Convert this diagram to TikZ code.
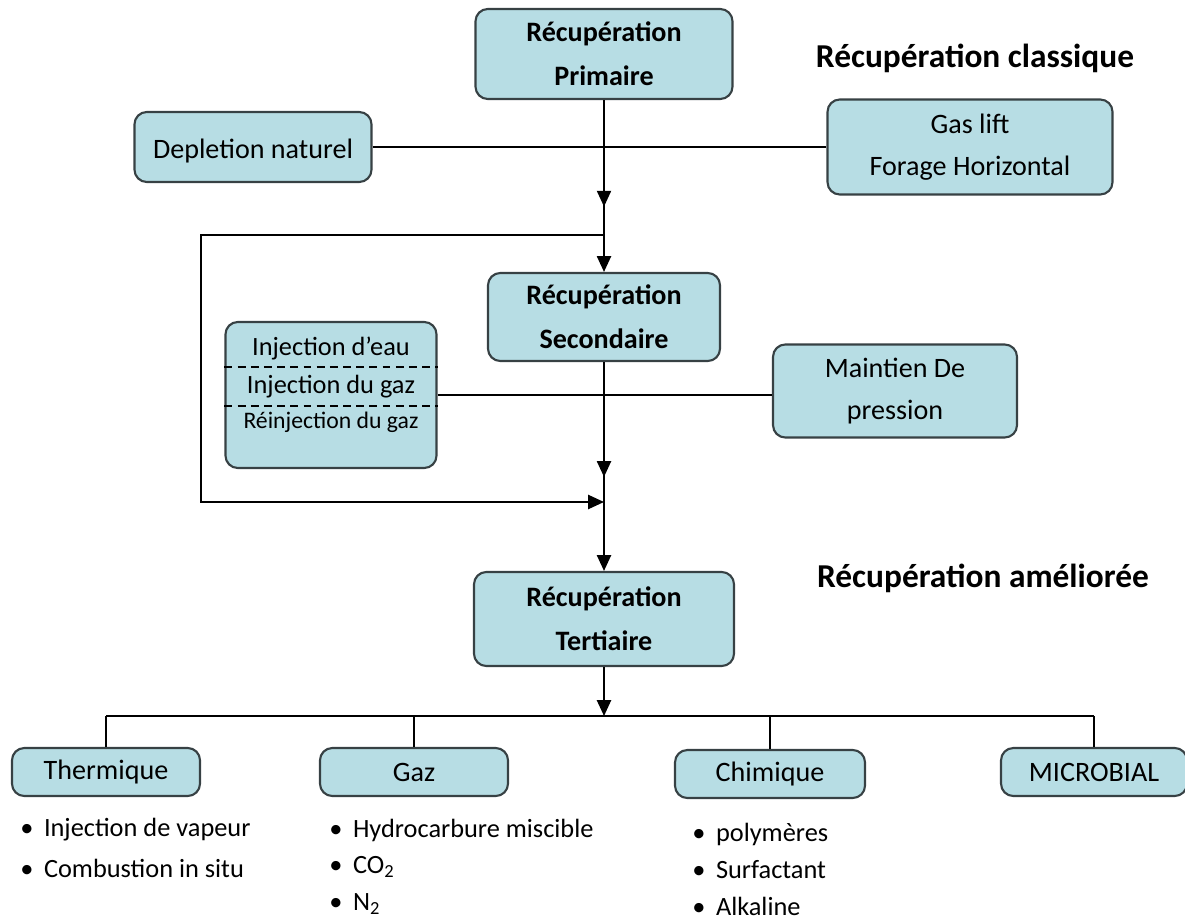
\documentclass[tikz,border=0pt]{standalone}
\usepackage{fontspec}
\setmainfont{Carlito}
\usetikzlibrary{arrows.meta,decorations.markings}

\definecolor{boxfill}{RGB}{183,221,228}
\definecolor{boxline}{RGB}{55,65,68}
\newlength{\pxu}
\setlength{\pxu}{0.02cm}

\tikzset{
  box/.style={draw=boxline, line width=1.2pt, fill=boxfill, rounded corners=7pt,
    align=center, inner sep=0pt, font=\fontsize{16}{24}\selectfont},
  bigbox/.style={box, font=\bfseries\fontsize{16}{25}\selectfont},
  link/.style={line width=1.1pt},
  tip/.style={link, -{Triangle[length=9pt,width=8pt]}},
  midtip/.style={decoration={markings,
      mark=at position #1 with {\arrow{Triangle[length=9pt,width=8pt]}}},
    postaction={decorate}},
  title/.style={font=\bfseries\fontsize{19}{23}\selectfont},
  item/.style={anchor=west, inner sep=0pt, font=\fontsize{15}{18}\selectfont}
}

\begin{document}
\begin{tikzpicture}[x=0.02cm, y=-0.02cm]
\useasboundingbox (0,0) rectangle (1185,922);

% main column
\node[bigbox, minimum width=257\pxu, minimum height=90\pxu] (prim) at (604,54) {Récupération\\Primaire};
\node[bigbox, minimum width=232\pxu, minimum height=88\pxu] (sec) at (604,317) {Récupération\\Secondaire};
\node[bigbox, minimum width=260\pxu, minimum height=94\pxu] (tert) at (604,619) {Récupération\\Tertiaire};

\node[title] (classique) at (975,58) {Récupération classique};
\node[title] (amelioree) at (983,578) {Récupération améliorée};

% primaire
\node[box, minimum width=237\pxu, minimum height=70\pxu] (depl) at (253,147) {Depletion naturel\vphantom{\rule{0pt}{16pt}}};
\node[box, minimum width=285\pxu, minimum height=95\pxu] (gas) at (970,147) {Gas lift\\Forage Horizontal};
\draw[link] (depl) -- (gas);
\draw[tip, midtip=0.62] (prim) -- (sec);

% secondaire
\node[box, minimum width=211\pxu, minimum height=146\pxu] (inj) at (331,395) {};
\node[font=\fontsize{15}{18}\selectfont] (eau) at (331,348) {Injection d’eau};
\node[font=\fontsize{15}{18}\selectfont] (gazinj) at (331,387) {Injection du gaz};
\node[font=\fontsize{13.5}{16}\selectfont] (reinj) at (331,422) {Réinjection du gaz};
\draw[dashed, line width=0.9pt, dash pattern=on 4.5pt off 3pt] (inj.west |- 0,367) -- (inj.east |- 0,367);
\draw[dashed, line width=0.9pt, dash pattern=on 4.5pt off 3pt] (inj.west |- 0,406) -- (inj.east |- 0,406);

\node[box, minimum width=244\pxu, minimum height=93\pxu] (maint) at (895,391) {Maintien De\\pression};
\draw[link] (inj.east) -- (inj.east -| maint.west);

\coordinate (split) at (604,235);
\coordinate (corner) at (201,502);
\coordinate (merge) at (604,502);
\draw[tip] (split) -| (corner) -- (merge);
\draw[tip, midtip=0.55] (sec) -- (tert);

% tertiaire
\coordinate (bar) at (604,716);
\draw[tip] (tert) -- (bar);

\node[box, minimum width=188\pxu, minimum height=48\pxu] (therm) at (106,772) {Thermique};
\node[box, minimum width=188\pxu, minimum height=48\pxu] (gaz) at (414,772) {Gaz};
\node[box, minimum width=190\pxu, minimum height=48\pxu] (chim) at (770,774) {Chimique};
\node[box, minimum width=186\pxu, minimum height=48\pxu] (micro) at (1094,772) {MICROBIAL};

\draw[link] (therm.north |- bar) -- (micro.north |- bar);
\foreach \b in {therm,gaz,chim,micro}
    \draw[link] (\b.north |- bar) -- (\b.north);

\foreach \t [count=\i] in {Injection de vapeur, Combustion in situ}
    \node[item] (th\i) at (20,{830+38*(\i-1)}) {\textbullet\hspace{6pt}\t};

\foreach \t [count=\i] in {Hydrocarbure miscible, CO\textsubscript{2}, N\textsubscript{2}}
    \node[item] (gz\i) at (329,{830+37*(\i-1)}) {\textbullet\hspace{6pt}\t};

\foreach \t [count=\i] in {polymères, Surfactant, Alkaline}
    \node[item] (ch\i) at (692,{834+36*(\i-1)}) {\textbullet\hspace{6pt}\t};

\end{tikzpicture}
\end{document}
